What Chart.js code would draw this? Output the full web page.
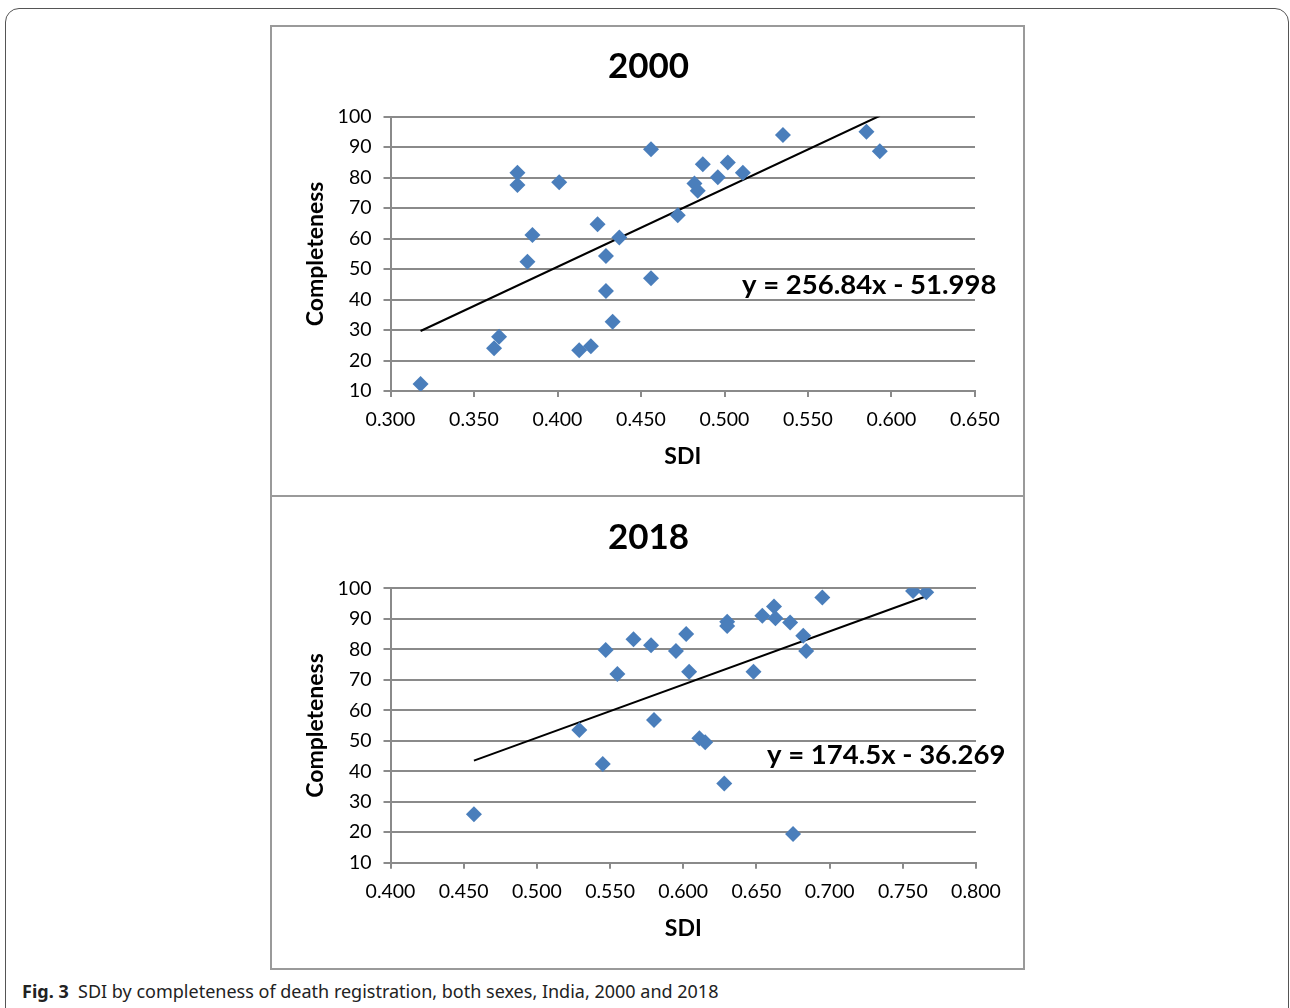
<!DOCTYPE html>
<html>
<head>
<meta charset="utf-8">
<script src="https://cdn.jsdelivr.net/npm/chart.js@4.4.1/dist/chart.umd.min.js"></script>
<style>
    body { margin: 0; background: #fff; font-family: "Noto Sans", sans-serif; }
    .frame {
        position: absolute; left: 5px; top: 8px; width: 1282px; height: 1100px;
        border: 1px solid #555; border-radius: 14px;
    }
    .panel { position: absolute; left: 270px; width: 755px; box-sizing: border-box; border: 2px solid #9a9a9a; }
    .box { position: absolute; left: 270px; width: 755px; }
    .caption {
        position: absolute; left: 22px; top: 979px; font-size: 18px; color: #222;
        white-space: pre;
    }
</style>
</head>
<body>
<div class="frame"></div>
<div class="panel" style="top:25px;height:472px"></div>
<div class="panel" style="top:495px;height:475px"></div>
<div class="box" style="top:25px;height:470px"><canvas id="chart2000"></canvas></div>
<div class="box" style="top:495px;height:473px"><canvas id="chart2018"></canvas></div>
<div class="caption"><b>Fig. 3</b>  SDI by completeness of death registration, both sexes, India, 2000 and 2018</div>
<script>
// 2000 – SDI vs completeness
let sdi2000 = [0.318, 0.362, 0.365, 0.376, 0.376, 0.401, 0.385, 0.382, 0.413, 0.420,
    0.424, 0.429, 0.429, 0.433, 0.437, 0.456, 0.456, 0.472, 0.482, 0.484, 0.487,
    0.496, 0.502, 0.511, 0.535, 0.585, 0.593];
let comp2000 = [12.3, 24.0, 27.8, 81.6, 77.6, 78.5, 61.2, 52.4, 23.4, 24.7,
    64.7, 54.3, 42.8, 32.7, 60.4, 89.3, 47.0, 67.7, 78.1, 75.7, 84.4,
    80.1, 85.0, 81.6, 94.0, 95.1, 88.7];

// 2018
let sdi2018 = [0.457, 0.529, 0.545, 0.547, 0.555, 0.566, 0.578, 0.580, 0.595, 0.602,
    0.604, 0.611, 0.615, 0.628, 0.630, 0.630, 0.648, 0.654, 0.662, 0.663,
    0.673, 0.675, 0.682, 0.684, 0.695, 0.757, 0.766];
let comp2018 = [25.9, 53.5, 42.4, 79.8, 71.9, 83.3, 81.3, 56.8, 79.4, 85.0,
    72.6, 50.8, 49.5, 36.0, 89.0, 87.6, 72.6, 91.0, 94.0, 90.2,
    88.8, 19.4, 84.4, 79.4, 97.0, 99.1, 98.7];

// trend lines as printed on the chart
let trend2000 = { slope: 256.84, intercept: -51.998, label: "y = 256.84x - 51.998" };
let trend2018 = { slope: 174.5, intercept: -36.269, label: "y = 174.5x - 36.269" };

let xTicks2000 = [0.30, 0.65];
let xTicks2018 = [0.40, 0.80];
let yTicks = [10, 100];

const FONT = "Lato";

function points(xs, ys) {
    return xs.map((x, i) => ({ x: x, y: ys[i] }));
}

function trendPoints(xs, t) {
    let lo = Math.min(...xs);
    let hi = Math.max(...xs);
    return [
        { x: lo, y: t.slope * lo + t.intercept },
        { x: hi, y: t.slope * hi + t.intercept }
    ];
}

// draws the year title and the equation text
const labelsPlugin = {
    id: "labels",
    afterDraw(chart, args, opts) {
        let ctx = chart.ctx;
        let area = chart.chartArea;
        ctx.save();
        ctx.fillStyle = "#000";
        ctx.textAlign = "center";
        ctx.textBaseline = "middle";
        ctx.font = "bold 35px " + FONT;
        ctx.fillText(opts.title, chart.width / 2 + 1, opts.titleY);
        ctx.textAlign = "left";
        ctx.font = "bold 27.5px " + FONT;
        ctx.fillText(opts.equation, area.left + opts.eqX, area.top + opts.eqY);
        ctx.restore();
    }
};

function makeChart(id, xs, ys, trend, xRange, title, pad, eq) {
    let ctx = document.getElementById(id).getContext("2d");
    return new Chart(ctx, {
        type: "scatter",
        data: {
            datasets: [{
                data: points(xs, ys),
                pointStyle: "rectRot",
                pointRadius: 8,
                pointHoverRadius: 8,
                backgroundColor: "#4a7ebb",
                borderColor: "#4a7ebb",
                borderWidth: 0
            }, {
                type: "line",
                data: trendPoints(xs, trend),
                borderColor: "#000",
                borderWidth: 2,
                pointRadius: 0,
                fill: false
            }]
        },
        options: {
            responsive: true,
            maintainAspectRatio: false,
            animation: false,
            layout: { padding: { top: pad.top, right: pad.right, left: 0, bottom: 0 } },
            plugins: {
                legend: { display: false },
                tooltip: { enabled: false },
                labels: { title: title, titleY: pad.titleY, equation: trend.label, eqX: eq.x, eqY: eq.y }
            },
            scales: {
                x: {
                    type: "linear",
                    min: xRange[0],
                    max: xRange[1],
                    afterFit: s => { s.height = pad.xHeight; },
                    ticks: {
                        stepSize: 0.05,
                        padding: 11,
                        color: "#000",
                        font: { family: FONT, size: 19.5 },
                        callback: v => v.toFixed(3)
                    },
                    grid: { drawOnChartArea: false, drawTicks: true, tickLength: 6, color: "#8a8a8a", lineWidth: 2 },
                    border: { color: "#8a8a8a", width: 2 },
                    title: {
                        display: true, text: "SDI", color: "#000",
                        font: { family: FONT, size: 23, weight: "bold" },
                        padding: { top: 0, bottom: pad.sdiBottom }
                    }
                },
                y: {
                    min: yTicks[0],
                    max: yTicks[1],
                    afterFit: s => { s.width = 120.5; },
                    ticks: {
                        stepSize: 10,
                        padding: 12,
                        color: "#000",
                        font: { family: FONT, size: 19.5 }
                    },
                    grid: { color: "#8a8a8a", lineWidth: 2, tickLength: 7 },
                    border: { color: "#8a8a8a", width: 2 },
                    title: {
                        display: true, text: "Completeness", color: "#000",
                        font: { family: FONT, size: 23, weight: "bold" },
                        padding: { top: 32, bottom: 0 }
                    }
                }
            }
        },
        plugins: [labelsPlugin]
    });
}

makeChart("chart2000", sdi2000, comp2000, trend2000, xTicks2000, "2000",
    { top: 91.7, right: 50, xHeight: 104, sdiBottom: 25, titleY: 42 },
    { x: 351.5, y: 168 });

makeChart("chart2018", sdi2018, comp2018, trend2018, xTicks2018, "2018",
    { top: 93.3, right: 49, xHeight: 105.3, sdiBottom: 26, titleY: 43 },
    { x: 376.5, y: 167 });
</script>
</body>
</html>
